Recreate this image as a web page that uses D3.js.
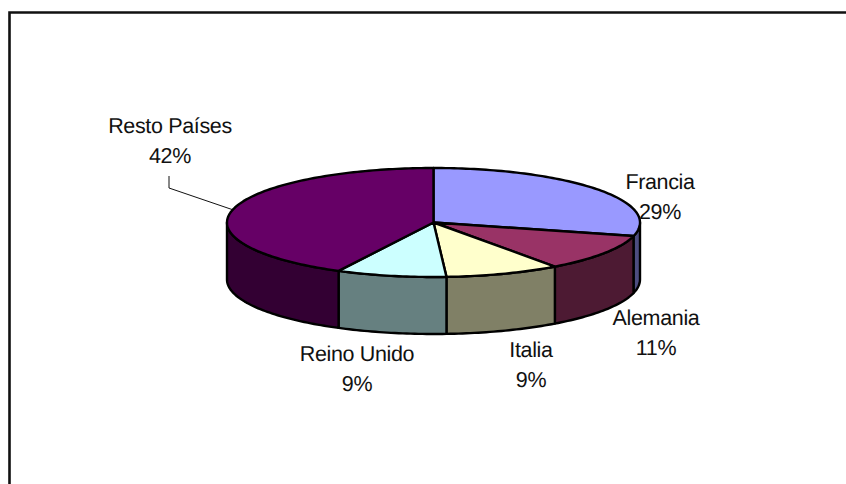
<!DOCTYPE html>
<html>
<head>
<meta charset="utf-8">
<script src="https://cdn.jsdelivr.net/npm/d3@7"></script>
<style>
html, body { margin: 0; padding: 0; background: #fff; }
svg { display: block; }
text { font-family: "Liberation Sans", Arial, sans-serif; font-size: 21.5px; letter-spacing: -0.35px; fill: #111; text-anchor: middle; text-rendering: geometricPrecision; }
</style>
</head>
<body>
<div id="chart"></div>
<script>
// data (shares drawn a little finer than the rounded labels)
var categories = ["Francia", "Alemania", "Italia", "Reino Unido", "Resto Países"];
var shares = [29, 11, 9, 8.6, 42.4];
var shareLabels = ["29%", "11%", "9%", "9%", "42%"];
var topColors = ["#9999ff", "#993366", "#ffffcc", "#ccffff", "#660066"];
var sideColors = ["#4d4d80", "#4d1a33", "#808066", "#668080", "#330033"];

// label anchors: centre x, baseline y of the first line
var labelX = [660, 656, 531, 357, 170];
var labelY = [189, 325, 357, 361, 133];

var width = 846, height = 484;
var cx = 433.5, cy = 222.5, rx = 206.5, ry = 54.5, depth = 57;
var lineGap = 30;

var svg = d3.select("#chart").append("svg")
    .attr("width", width)
    .attr("height", height);

// frame only shows on the top and left, the rest is cut off
svg.append("path")
    .attr("d", d3.line()([[9.5, height], [9.5, 12.5], [width, 12.5]]))
    .attr("fill", "none")
    .attr("stroke", "#111")
    .attr("stroke-width", 2.6);

var pie = d3.pie().sort(null).value(function(d){ return d; })(shares);

var x = d3.scaleLinear().domain([-1, 1]).range([cx - rx, cx + rx]);
var y = d3.scaleLinear().domain([-1, 1]).range([cy - ry, cy + ry]);
var line = d3.line();

// points along the rim, angle 0 is 12 o'clock, clockwise
function rim(a0, a1, drop) {
    var n = Math.max(2, Math.ceil(Math.abs(a1 - a0) / 0.02));
    return d3.range(n + 1).map(function(i){
        var a = a0 + (a1 - a0) * i / n;
        return [x(Math.sin(a)), y(-Math.cos(a)) + drop];
    });
}

// side walls, only the front half of the disc can be seen
var front0 = Math.PI / 2, front1 = Math.PI * 1.5;

svg.selectAll("path.side")
    .data(pie.filter(function(d){ return d.endAngle > front0 && d.startAngle < front1; }))
    .enter()
    .append("path")
    .attr("class", "side")
    .attr("d", function(d){
        var a0 = Math.max(d.startAngle, front0), a1 = Math.min(d.endAngle, front1);
        return line(rim(a0, a1, 0).concat(rim(a1, a0, depth))) + "Z";
    })
    .attr("fill", function(d){ return sideColors[d.index]; })
    .attr("stroke", "#000")
    .attr("stroke-width", 2.4)
    .attr("stroke-linejoin", "round");

svg.selectAll("path.top")
    .data(pie)
    .enter()
    .append("path")
    .attr("class", "top")
    .attr("d", function(d){
        return line([[cx, cy]].concat(rim(d.startAngle, d.endAngle, 0))) + "Z";
    })
    .attr("fill", function(d){ return topColors[d.index]; })
    .attr("stroke", "#000")
    .attr("stroke-width", 2.4)
    .attr("stroke-linejoin", "round");

// leader line for Resto Países
svg.append("path")
    .attr("d", line([[169, 176], [169, 188], [232, 209.5]]))
    .attr("fill", "none")
    .attr("stroke", "#111")
    .attr("stroke-width", 1);

var labels = svg.selectAll("g.label")
    .data(categories)
    .enter()
    .append("g")
    .attr("class", "label");

labels.append("text")
    .attr("x", function(d, i){ return labelX[i]; })
    .attr("y", function(d, i){ return labelY[i]; })
    .text(function(d){ return d; });

labels.append("text")
    .attr("x", function(d, i){ return labelX[i]; })
    .attr("y", function(d, i){ return labelY[i] + lineGap; })
    .text(function(d, i){ return shareLabels[i]; });
</script>
</body>
</html>
